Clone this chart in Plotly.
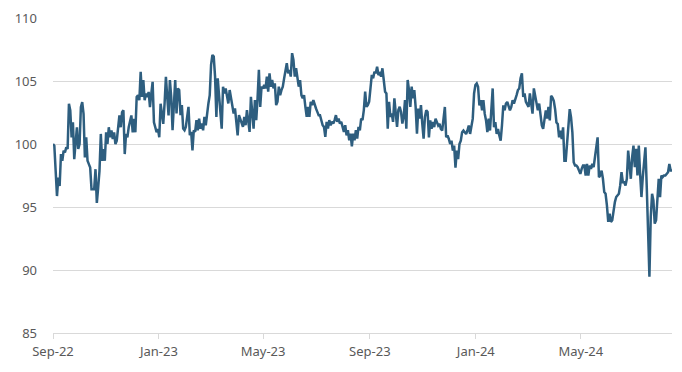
import plotly.graph_objects as go
import pandas as pd

START_DATE = "2022-09-01"
END_DATE = "2024-08-14"

values_2022 = [
    100.0, 99.87, 97.87, 95.87, 97.33, 96.67, 99.2, 98.67, 99.47, 99.33, 99.73, 99.6,
    103.2, 102.67, 100.53, 101.73, 98.8, 100.53, 101.33, 99.6, 100.0, 102.93, 103.33,
    102.4, 98.93, 100.53, 98.67, 98.4, 98.13, 96.4, 96.4, 96.4, 98.0, 95.33, 96.53,
    97.87, 100.8, 98.67, 99.6, 98.67, 100.93, 100.0, 101.33, 100.53, 101.07, 100.4,
    100.93, 100.0, 100.27, 101.6, 102.27, 101.33, 102.53, 102.67, 99.2, 100.8, 100.53,
    101.33, 101.87, 102.27, 100.93, 102.0, 100.93, 103.73, 103.87, 103.47, 105.73,
    103.73, 105.07, 103.47, 104.0, 103.73, 104.13, 102.93, 104.0, 104.93, 101.73,
    101.2, 100.93, 101.2, 100.53, 103.2, 102.27, 101.6, 103.2, 105.33, 103.73, 102.27,
    105.07, 103.73,
]

values_2023a = [
    101.09, 103.35, 105.08, 102.42, 104.41, 104.28, 102.29, 103.09, 101.22, 101.09,
    101.36, 102.15, 102.95, 100.69, 100.96, 99.49, 101.09, 100.96, 101.89, 101.09,
    102.02, 101.22, 101.62, 101.09, 102.15, 101.49, 102.55, 103.22, 103.88, 106.28,
    107.07, 106.94, 105.35, 102.15, 105.21, 103.62, 102.69, 101.22, 104.55, 104.02,
    104.41, 103.62, 103.22, 104.28, 103.62, 102.95, 102.42, 102.82, 101.49, 100.69,
    102.29, 102.02, 101.76, 101.36, 102.15, 101.49, 102.69, 101.89, 100.96, 103.75,
    102.15, 101.22, 103.48, 101.89, 103.62, 105.88, 102.95, 104.55, 104.41, 104.68,
    104.41, 105.35, 104.15, 105.61, 104.55, 105.08, 104.41, 104.81, 103.09, 103.35,
    104.55, 103.88, 104.28, 104.55, 105.21, 105.74, 106.41, 105.61, 105.88, 105.35,
    107.21, 106.68, 105.35, 106.01, 105.35, 104.55,
]

values_2023b = [
    105.08, 103.88, 103.62, 103.88, 102.95, 102.15, 102.95, 102.15, 103.35, 103.09,
    103.48, 103.09, 102.82, 102.55, 102.29, 102.29, 101.89, 101.49, 101.36, 100.56,
    101.76, 101.22, 101.89, 101.49, 101.76, 101.62, 101.89, 102.29, 101.76, 102.02,
    101.62, 101.76, 101.36, 100.96, 101.49, 100.69, 101.09, 100.29, 100.82, 99.81,
    100.82, 100.29, 101.09, 100.43, 101.36, 101.09, 102.02, 101.89, 102.69, 104.15,
    102.95, 103.09, 103.35, 104.28, 105.48, 105.21, 105.74, 105.61, 106.14, 105.48,
    105.61, 105.35, 106.01, 105.08, 104.15, 104.02, 101.22, 103.35, 102.15, 102.42,
    101.76, 103.62, 102.29, 101.36, 102.69, 102.95, 102.55, 101.62, 102.15, 103.48,
    101.22, 105.08, 104.28, 102.95, 104.55, 103.62, 104.28, 102.95, 100.82, 102.82,
    102.02, 103.09, 101.62, 100.43, 102.15,
]

values_2024a = [
    102.67, 102.54, 100.53, 101.87, 101.2, 101.74, 101.34, 102.01, 101.74, 101.47,
    101.6, 101.2, 101.07, 102.01, 102.94, 100.53, 100.67, 100.4, 100.0, 100.27, 99.47,
    99.87, 98.13, 99.47, 98.8, 100.0, 100.27, 100.94, 101.07, 100.94, 100.8, 101.07,
    101.47, 100.8, 101.34, 102.01, 104.01, 104.68, 104.81, 104.55, 103.07, 103.48,
    102.67, 103.48, 102.41, 101.87, 100.94, 102.01, 101.07, 102.54, 104.41, 101.34,
    101.74, 100.8, 101.2, 100.67, 100.27, 101.47, 103.07, 102.67, 103.21, 103.34,
    102.94, 102.67, 102.94, 103.48, 103.21, 103.48, 103.88, 104.28, 104.41, 105.21,
    105.61, 103.74, 104.01, 103.34, 103.07, 102.94, 104.01, 103.34, 102.41, 104.41,
    103.74, 103.34, 102.67, 103.21, 102.41, 101.47, 101.2, 101.87, 102.67, 102.01,
    102.94, 101.87,
]

values_2024b = [
    103.82, 103.68, 103.42, 102.76, 101.71, 101.58, 100.53, 101.05, 100.39, 101.32,
    98.68, 98.68, 100.26, 101.84, 102.76, 102.11, 100.92, 98.55, 98.29, 98.29, 98.16,
    97.89, 97.63, 98.03, 98.29, 98.29, 97.5, 98.42, 97.5, 98.29, 98.03, 98.42, 98.16,
    98.95, 100.0, 100.53, 97.37, 97.5, 97.89, 97.24, 96.18, 96.05, 95.13, 93.82, 94.47,
    93.82, 93.95, 94.74, 95.39, 95.79, 95.92, 96.05, 96.71, 97.76, 96.97, 96.97, 96.71,
    97.24, 99.47, 98.03, 97.24, 98.95, 99.87, 98.16, 99.61, 97.5, 99.87, 97.63, 95.79,
    97.37, 98.82, 99.74, 96.58, 93.68, 89.47, 94.21, 96.05, 95.53, 93.68, 93.95, 95.53,
    97.24, 95.79, 97.5, 97.37, 97.5, 97.5, 97.63, 97.76, 98.42, 97.89, 97.89,
]

values = values_2022 + values_2023a + values_2023b + values_2024a + values_2024b
dates = pd.date_range(START_DATE, END_DATE, periods=len(values))

tick_dates = ["2022-09-01", "2023-01-01", "2023-05-01", "2023-09-01", "2024-01-01", "2024-05-01"]
tick_labels = ["Sep-22", "Jan-23", "May-23", "Sep-23", "Jan-24", "May-24"]
y_ticks = [85, 90, 95, 100, 105, 110]

LINE = "#2E5E7F"
GRID = "#D9D9D9"
TEXT = "#595959"

fig = go.Figure()
fig.add_trace(go.Scatter(
    x=dates, y=values, mode="lines",
    line=dict(color=LINE, width=2.5),
    showlegend=False, hoverinfo="x+y",
))

# page body has an 8px default margin, so the figure is shifted by 8px
fig.update_layout(
    width=682, height=372,
    margin=dict(l=45, r=18, t=10, b=47, autoexpand=False),
    paper_bgcolor="white", plot_bgcolor="white",
    font=dict(family="Noto Sans, Open Sans, sans-serif", size=13, color=TEXT),
)
fig.update_xaxes(
    type="date",
    range=[START_DATE, END_DATE],
    tickvals=tick_dates, ticktext=tick_labels,
    showgrid=False, zeroline=False,
    showline=True, linecolor=GRID, linewidth=1,
    ticks="outside", ticklen=5, tickcolor=GRID,
    ticklabelstandoff=1,
    tickfont=dict(size=13, color=TEXT),
    automargin=False,
)
fig.update_yaxes(
    range=[85, 110], tickvals=y_ticks,
    showgrid=True, gridcolor=GRID, gridwidth=1,
    zeroline=False, showline=False, ticks="",
    ticklabelstandoff=15,
    tickfont=dict(size=13, color=TEXT),
    automargin=False,
)

fig.write_html("out.html")
